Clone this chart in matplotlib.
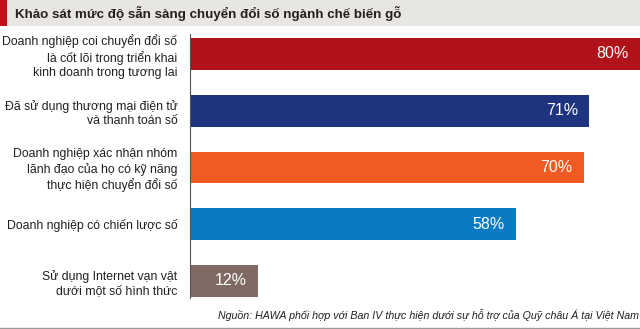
import matplotlib
matplotlib.use("Agg")
import matplotlib.pyplot as plt
from matplotlib.patches import Rectangle
from matplotlib.lines import Line2D

title = "Khảo sát mức độ sẵn sàng chuyển đổi số ngành chế biến gỗ"
categories = [
    "Doanh nghiệp coi chuyển đổi số\nlà cốt lõi trong triển khai\nkinh doanh trong tương lai",
    "Đã sử dụng thương mại điện tử\nvà thanh toán số",
    "Doanh nghiệp xác nhận nhóm\nlãnh đạo của họ có kỹ năng\nthực hiện chuyển đổi số",
    "Doanh nghiệp có chiến lược số",
    "Sử dụng Internet vạn vật\ndưới một số hình thức",
]
values = [80, 71, 70, 58, 12]
colors = ["#af1219", "#1f347f", "#f05a23", "#0a7bc3", "#7f6b64"]
source = "Nguồn: HAWA phối hợp với Ban IV thực hiện dưới sự hỗ trợ của Quỹ châu Á tại Việt Nam"

FONT = ["Liberation Sans", "DejaVu Sans"]
plt.rcParams["font.family"] = FONT

W, H = 640, 329
fig = plt.figure(figsize=(W / 100, H / 100), dpi=100)
fig.patch.set_facecolor("white")

# title band
fig.patches.append(Rectangle((0, 1 - 26 / H), 1, 26 / H, transform=fig.transFigure,
                             facecolor="#e8e6e3", edgecolor="none", zorder=0))
fig.patches.append(Rectangle((0, 1 - 26 / H), 7 / W, 26 / H, transform=fig.transFigure,
                             facecolor="#c1121c", edgecolor="none", zorder=1))
fig.text(15 / W, 1 - 13.5 / H, title, ha="left", va="center", fontsize=9.6,
         fontweight="bold", color="#231f20")

ax = fig.add_axes([190 / W, 1 - 298 / H, 450 / W, 264 / H])
ypos = list(range(len(values)))
ax.barh(ypos, values, height=0.56, color=colors, edgecolor="none")
ax.set_xlim(0, 80)
ax.set_ylim(4.30, -0.352)
ax.set_yticks(ypos)
ax.set_yticklabels(categories, fontsize=8.85, color="#231f20", ha="right",
                   linespacing=1.25)
ax.tick_params(axis="y", length=0, pad=9)
ax.set_xticks([])
for s in ["top", "right", "bottom"]:
    ax.spines[s].set_visible(False)
ax.spines["left"].set_color("#555555")
ax.spines["left"].set_linewidth(0.8)
ax.set_facecolor("none")

for y, v in zip(ypos, values):
    ax.text(v - 2.0, y, f"{v}%", ha="right", va="center", color="white", fontsize=11.5)

fig.text(639 / W, 1 - 315 / H, source, ha="right", va="center", fontsize=7.7,
         style="italic", color="#231f20")
fig.lines.append(Line2D([0, 1], [1 - 327.5 / H] * 2, transform=fig.transFigure,
                        color="#999999", linewidth=1))

fig.savefig("out.png", dpi=100)
